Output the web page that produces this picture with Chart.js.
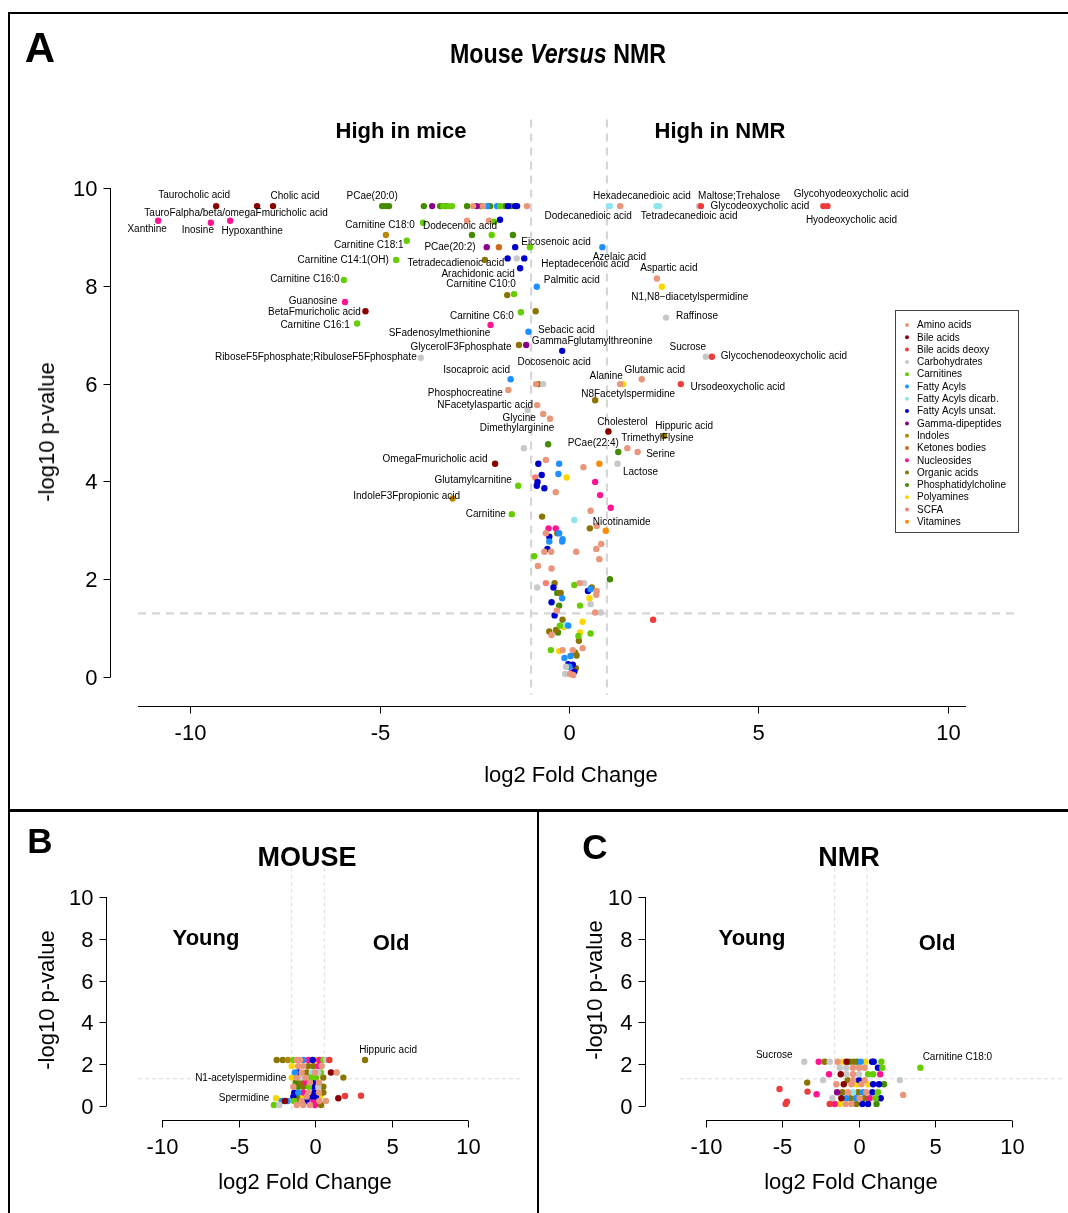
<!DOCTYPE html>
<html>
<head>
<meta charset="utf-8">
<script src="https://cdn.jsdelivr.net/npm/chart.js@4.4.1/dist/chart.umd.min.js"></script>
<style>
  body { margin: 0; background: #fff; }
  #fig { position: relative; width: 1068px; height: 1213px; overflow: hidden; font-family: "Liberation Sans", Arial, sans-serif; color: #000; }
  canvas { position: absolute; }
  .rule { position: absolute; background: #000; }
  .t { position: absolute; white-space: nowrap; transform: translate(-50%, -50%); line-height: 1; }
  .b { font-weight: bold; }
  .ax { font-size: 22px; }
  .rot { transform: translate(-50%, -50%) rotate(-90deg); }
</style>
</head>
<body>
<div id="fig">
  <div class="rule" style="left:8px;top:12px;width:2px;height:1201px"></div>
  <div class="rule" style="left:8px;top:12px;width:1060px;height:2px"></div>
  <div class="rule" style="left:8px;top:809px;width:1060px;height:3px"></div>
  <div class="rule" style="left:537px;top:809px;width:2px;height:404px"></div>

  <canvas id="chartA" width="1068" height="805" style="left:0;top:0"></canvas>
  <canvas id="chartB" width="536" height="398" style="left:0;top:815px"></canvas>
  <canvas id="chartC" width="528" height="398" style="left:540px;top:815px"></canvas>

  <div class="t b" style="left:40px;top:48px;font-size:42px">A</div>
  <div class="t b" style="left:558px;top:54px;font-size:28px;transform:translate(-50%,-50%) scaleX(0.83)">Mouse <i>Versus</i> NMR</div>
  <div class="t b" style="left:401px;top:131px;font-size:22px">High in mice</div>
  <div class="t b" style="left:720px;top:131px;font-size:22px">High in NMR</div>
  <div class="t ax rot" style="left:47px;top:432px">-log10 p-value</div>
  <div class="t ax" style="left:571px;top:775px">log2 Fold Change</div>

  <div class="t b" style="left:40px;top:840px;font-size:35px">B</div>
  <div class="t b" style="left:307px;top:857px;font-size:27px">MOUSE</div>
  <div class="t b" style="left:206px;top:938px;font-size:22px">Young</div>
  <div class="t b" style="left:391px;top:943px;font-size:22px">Old</div>
  <div class="t ax rot" style="left:47px;top:1000px">-log10 p-value</div>
  <div class="t ax" style="left:305px;top:1182px">log2 Fold Change</div>

  <div class="t b" style="left:595px;top:846px;font-size:35px">C</div>
  <div class="t b" style="left:849px;top:857px;font-size:27px">NMR</div>
  <div class="t b" style="left:752px;top:938px;font-size:22px">Young</div>
  <div class="t b" style="left:937px;top:943px;font-size:22px">Old</div>
  <div class="t ax rot" style="left:595px;top:990px">-log10 p-value</div>
  <div class="t ax" style="left:851px;top:1182px">log2 Fold Change</div>
</div>

<script>
// metabolite classes (legend order)
const classNames = ['Amino acids', 'Bile acids', 'Bile acids deoxy', 'Carbohydrates', 'Carnitines',
  'Fatty Acyls', 'Fatty Acyls dicarb.', 'Fatty Acyls unsat.', 'Gamma-dipeptides', 'Indoles',
  'Ketones bodies', 'Nucleosides', 'Organic acids', 'Phosphatidylcholine', 'Polyamines', 'SCFA', 'Vitamines'];
const classColors = ['#E9967A', '#8B0000', '#EE3B3B', '#C8C8C8', '#66CD00',
  '#1E90FF', '#8EE5EE', '#0000CD', '#8B008B', '#B8860B',
  '#D2691E', '#FF1493', '#8B7500', '#458B00', '#FFD700', '#FA8072', '#FF8C00'];

const xTicks = [-10, -5, 0, 5, 10];
const yTicks = [0, 2, 4, 6, 8, 10];
const fcCut = 1;
const pCut = 1.30103;

// ---- A: mouse versus NMR (labelled points come first) ----
const mvnNames = ['Taurocholic acid', 'TauroFalpha/beta/omegaFmuricholic acid', 'Cholic acid', 'Xanthine', 'Inosine',
  'Hypoxanthine', 'PCae(20:0)', 'Carnitine C18:0', 'Dodecenoic acid', 'Carnitine C18:1',
  'PCae(20:2)', 'Eicosenoic acid', 'Carnitine C14:1(OH)', 'Tetradecadienoic acid', 'Heptadecenoic acid',
  'Arachidonic acid', 'Azelaic acid', 'Carnitine C10:0', 'Palmitic acid', 'Carnitine C16:0',
  'Aspartic acid', 'N1,N8\u2212diacetylspermidine', 'Guanosine', 'BetaFmuricholic acid', 'Carnitine C16:1',
  'Raffinose', 'Carnitine C6:0', 'SFadenosylmethionine', 'Sebacic acid', 'GammaFglutamylthreonine',
  'GlycerolF3Fphosphate', 'Sucrose', 'Glycochenodeoxycholic acid', 'RiboseF5Fphosphate;RibuloseF5Fphosphate', 'Docosenoic acid',
  'Isocaproic acid', 'Alanine', 'Glutamic acid', 'Ursodeoxycholic acid', 'Phosphocreatine',
  'N8Facetylspermidine', 'NFacetylaspartic acid', 'Glycine', 'Dimethylarginine', 'Cholesterol',
  'Hippuric acid', 'TrimethylFlysine', 'PCae(22:4)', 'Serine', 'Lactose',
  'OmegaFmuricholic acid', 'Glutamylcarnitine', 'IndoleF3Fpropionic acid', 'Carnitine', 'Nicotinamide',
  'Hexadecanedioic acid', 'Dodecanedioic acid', 'Maltose;Trehalose', 'Glycodeoxycholic acid', 'Tetradecanedioic acid',
  'Glycohyodeoxycholic acid', 'Hyodeoxycholic acid'];

const mvnFC = [-9.31, -8.23, -7.81, -10.84, -9.45, -8.94, -4.93, -3.85, -1.82, -4.28,
  -2.56, -1.03, -4.56, -2.22, -1.18, -1.29, 0.88, -1.45, -0.85, -5.94,
  2.32, 2.45, -5.91, -5.37, -5.59, 2.56, -1.27, -2.07, -1.07, -1.13,
  -1.32, 3.61, 3.77, -3.91, -0.18, -1.54, 1.35, 1.92, 2.95, -1.6,
  0.69, -0.84, -0.68, -0.5, 1.04, 2.51, 1.54, 1.3, 1.81, 1.28,
  -1.95, -1.34, -3.07, -1.51, 0.97, 1.08, 1.06, 3.43, 3.48, 2.38,
  6.71, 6.82,
  -4.83, -4.75, -3.83, -3.61, -3.4, -3.32, -3.25, -3.19, -3.09, -2.69,
  -2.53, -2.44, -2.32, -2.27, -2.16, -2.08, -1.9, -1.82, -1.69, -1.61,
  -1.53, -1.42, -1.37, -1.11, 1.35, 2.31,
  -2.69, -2.11, -1.98, -4.83, -2.04, -1.48, -2.17, -1.85, -1.42, -1.62, -1.38,
  -1.63, -0.88, -0.87, -0.81, -0.68, 1.43, -1.09, -0.55, -1.19,
  -0.81, -0.61, -0.26, 0.38, 0.8, -0.72, -0.89, -0.83, -0.85, -0.65,
  -0.28, -0.06, -0.35, 0.69, 0.82, 1.1, -0.71, 0.14, 0.57, 0.55, 0.73,
  -0.54, -0.35, -0.61, -0.31, -0.26, -0.52, -0.52, -0.17, -0.18, -0.57,
  -0.65, -0.47, 0.19, 0.72, 0.85, 0.8, -0.92, -0.82, -0.46,
  -0.84, -0.61, -0.38, -0.41, -0.31, -0.22, -0.18, -0.46, -0.26, -0.32,
  -0.38, 0.14, 0.28, 0.4, 0.6, 0.57, 0.5, 0.73, 0.72, 0.54,
  0.57, 0.29, 1.08, 0.69, 0.84, 2.22,
  -0.17, -0.08, -0.02, -0.24, -0.14, 0.36, -0.52, -0.34, -0.29, -0.46,
  0.29, 0.57, 0.25, 0.26, -0.48, -0.26, -0.17, 0.1, 0.16, 0.2,
  0.36, -0.12, 0.04, -0.02, 0.1, 0.01, -0.08, 0.18, 0.14, 0.07,
  0.03, -0.1, 0.11];

const mvnLogP = [9.63, 9.63, 9.63, 9.33, 9.29, 9.33, 9.63, 9.29, 9.35, 8.92,
  9.04, 8.79, 8.53, 8.53, 8.56, 8.36, 8.79, 7.83, 7.98, 8.12,
  8.15, 7.98, 7.67, 7.48, 7.23, 7.35, 7.46, 7.2, 7.06, 6.79,
  6.79, 6.55, 6.55, 6.53, 6.67, 6.09, 5.99, 6.09, 5.99, 5.87,
  5.66, 5.56, 5.38, 5.28, 5.02, 4.93, 4.68, 4.6, 4.6, 4.36,
  4.36, 3.91, 3.65, 3.33, 2.99, 9.63, 9.63, 9.63, 9.63, 9.63,
  9.63, 9.63,
  9.63, 9.63, 9.63, 9.63, 9.63, 9.63, 9.63, 9.63, 9.63, 9.63,
  9.63, 9.63, 9.63, 9.63, 9.63, 9.63, 9.63, 9.63, 9.63, 9.63,
  9.63, 9.63, 9.63, 9.63, 9.63, 9.63,
  9.33, 9.33, 9.31, 9.04, 9.04, 9.04, 8.79, 8.79, 8.79, 8.56, 8.56,
  7.81, 7.48, 5.99, 5.99, 5.99, 5.99, 5.46, 4.76, 4.68,
  4.36, 4.44, 4.36, 4.29, 4.36, 4.13, 4.08, 3.99, 3.91, 3.86,
  4.15, 4.08, 3.78, 3.99, 3.72, 3.46, 3.28, 3.21, 3.4, 3.04, 3.09,
  3.04, 3.04, 2.94, 2.94, 2.94, 2.87, 2.77, 2.82, 2.77, 2.62,
  2.56, 2.56, 2.56, 2.62, 2.72, 2.41, 2.47, 2.27, 2.22,
  1.83, 1.92, 1.92, 1.83, 1.72, 1.72, 1.61, 1.53, 1.46, 1.36,
  1.26, 1.88, 1.92, 1.92, 1.83, 1.8, 1.76, 1.76, 1.68, 1.61,
  1.49, 1.46, 2.0, 1.32, 1.32, 1.17,
  1.17, 1.07, 1.05, 1.05, 1.02, 1.13, 0.93, 0.96, 0.91, 0.86,
  0.91, 0.89, 0.84, 0.74, 0.55, 0.53, 0.55, 0.55, 0.5, 0.44,
  0.59, 0.39, 0.43, 0.26, 0.25, 0.21, 0.21, 0.18, 0.11, 0.09,
  0.06, 0.06, 0.04];

const mvnClass = [1, 1, 1, 11, 11, 11, 13, 4, 7, 4,
  13, 4, 4, 12, 7, 7, 5, 4, 5, 4,
  0, 14, 11, 1, 4, 3, 4, 11, 5, 8,
  12, 3, 2, 3, 7, 5, 0, 0, 2, 0,
  12, 0, 0, 0, 1, 12, 0, 13, 0, 3,
  1, 4, 9, 4, 16, 6, 6, 3, 2, 6,
  2, 2,
  13, 13, 13, 8, 13, 4, 13, 4, 4, 13,
  0, 8, 13, 0, 5, 13, 5, 4, 13, 7,
  13, 7, 7, 0, 0, 6,
  0, 0, 4, 9, 4, 13, 8, 10, 7, 7, 3,
  12, 12, 0, 12, 3, 14, 3, 13, 3,
  7, 0, 5, 0, 16, 7, 15, 7, 7, 7,
  5, 14, 0, 11, 11, 11, 12, 6, 0, 12, 0,
  11, 11, 0, 12, 5, 7, 5, 5, 5, 7,
  0, 0, 0, 0, 0, 0, 4, 0, 0,
  3, 15, 12, 7, 13, 12, 5, 7, 13, 0,
  7, 4, 0, 3, 12, 5, 7, 0, 0, 14,
  3, 4, 13, 0, 3, 2,
  12, 6, 5, 4, 14, 14, 12, 12, 13, 0,
  14, 4, 4, 12, 4, 14, 0, 0, 12, 12,
  0, 5, 5, 7, 7, 5, 3, 12, 7, 11,
  0, 3, 0];

// label offsets in px from the point (text centre)
const mvnLabelPos = [[-22, -11], [-21, 7], [22, -10], [-11, 8], [-13, 8], [22, 10], [-10, -10], [-43, 3], [-40, 6], [-38, 4],
  [-22, 12], [26, -5], [-53, 0], [-29, 3], [61, 6], [-42, 6], [17, 10], [-33, -10], [35, -7], [-39, -1],
  [12, -10], [28, 10], [-32, -1], [-51, 1], [-42, 2], [31, -1], [-39, 4], [-51, 8], [38, -2], [66, -4],
  [-58, 2], [-18, -9], [72, 0], [-105, 0], [-8, 11], [-34, -9], [-14, -8], [13, -9], [57, 3], [-43, 3],
  [33, -6], [-52, 0], [-24, 4], [-33, 9], [14, -9], [20, -10], [30, -10], [-25, -9], [23, 2], [23, 8],
  [-60, -5], [-45, -6], [-46, -2], [-26, 0], [16, -9], [32, -10], [-21, 10], [40, -10], [59, 0], [30, 10],
  [28, -12], [24, 14]];

// ---- B: mouse, old versus young ----
const mouseNames = ['Hippuric acid', 'N1-acetylspermidine', 'Spermidine'];
const mouseFC = [3.5, -1.0, -1.96,
  -1.92, -1.55, -1.23, -0.9, -0.69, -0.49, -0.29, 0.02, 0.29, 0.53, 0.69, 0.94, 1.1, 1.31,
  -0.6, -0.29, 0.02, 0.33, 0.63, 0.84, -1.0,
  -0.8, -0.6, -0.39, -0.08, 0.23, 0.43, 0.63, 0.78, 1.41, 1.76,
  -0.69, -0.45, -0.14, 0.18, 0.49, 0.94, 2.17,
  -0.75, -0.45, -0.14, 0.12, 0.43, 0.67,
  -0.9, -0.6, -0.29, 0.06, 0.33, 0.63, 0.94,
  -0.84, -0.6, -0.29, 0.02, 0.39, 0.67, 0.94,
  1.86, 2.27, 3.25,
  -0.9, -0.69, -0.39, -0.08, 0.23, 0.49, 0.74,
  -1.61, -1.41, -1.25, -0.86, -0.6, -0.39, -0.08, 0.33, 0.69, 1.1,
  -2.09, -1.76, -0.69, -0.29, 0.12, 0.43, 0.8];
const mouseLogP = [2.2, 1.36, 0.37,
  2.2, 2.2, 2.2, 2.2, 2.2, 2.2, 2.2, 2.2, 2.2, 2.2, 2.2, 2.2, 2.2, 2.2,
  1.91, 1.91, 1.91, 1.91, 1.91, 1.91, 1.91,
  1.6, 1.6, 1.6, 1.6, 1.6, 1.6, 1.6, 1.6, 1.6, 1.6,
  1.36, 1.36, 1.36, 1.36, 1.36, 1.36, 1.36,
  1.12, 1.12, 1.12, 1.12, 1.12, 1.12,
  0.92, 0.92, 0.92, 0.92, 0.92, 0.92, 0.92,
  0.64, 0.64, 0.64, 0.64, 0.64, 0.64, 0.64,
  0.37, 0.48, 0.49,
  0.45, 0.45, 0.45, 0.45, 0.45, 0.45, 0.45,
  0.24, 0.24, 0.24, 0.24, 0.24, 0.24, 0.24, 0.24, 0.24, 0.24,
  0.05, 0.05, 0.05, 0.05, 0.05, 0.05, 0.05];
const mouseClass = [12, 14, 14,
  12, 12, 9, 4, 0, 0, 5, 11, 7, 14, 11, 4, 3, 2,
  0, 0, 12, 12, 11, 0, 14,
  5, 7, 0, 12, 6, 0, 3, 4, 1, 0,
  0, 3, 0, 4, 4, 12, 12,
  13, 12, 11, 0, 7, 0,
  0, 13, 12, 4, 7, 3, 12,
  7, 5, 11, 0, 7, 0, 12,
  1, 2, 2,
  7, 13, 14, 0, 7, 7, 14,
  5, 1, 5, 4, 12, 0, 7, 11, 0, 0,
  4, 3, 0, 0, 0, 11, 12];
const mouseLabelPos = [[23, -10], [-51, 1], [-32, 0]];

// ---- C: NMR, old versus young ----
const nmrNames = ['Sucrose', 'Carnitine C18:0'];
const nmrFC = [-2.88, 4.29,
  -1.99, -1.62, -1.31, -0.82, -0.48, -0.27, -0.07, 0.17, 0.38, 0.6, 0.9, 1.31, 1.41, 1.88,
  -0.69, -0.28, 0.13, 0.5, 0.85, 1.67, 1.94,
  -1.35, -0.63, -0.28, 0.13, 0.5, 1.06, 1.37, 1.81,
  -1.71, -0.2, 0.13, 0.5, 0.85, 3.02, -2.7,
  -0.9, -0.44, 0.03, 0.34, 0.65, 1.06, 1.37, 1.74, 2.05,
  -4.41, -2.68, -2.12,
  -0.85, -0.52, -0.18, 0.13, 0.44, 0.75, 0.95, 1.32, 1.67, 3.23,
  -1.14, -0.59, -0.28, -0.03, 0.3, 0.54, 0.85, 1.16, 1.53, 1.84,
  -1.31, -1.0, -0.69, -0.32, 0.03, 0.34, 0.71, 1.06, 1.58,
  -3.95, -4.03];
const nmrLogP = [2.12, 1.83,
  2.12, 2.12, 2.12, 2.12, 2.12, 2.12, 2.12, 2.12, 2.12, 2.12, 2.12, 2.12, 2.12, 2.12,
  1.83, 1.83, 1.83, 1.83, 1.83, 1.83, 1.83,
  1.52, 1.52, 1.52, 1.52, 1.52, 1.52, 1.52, 1.52,
  1.24, 1.24, 1.24, 1.24, 1.24, 1.24, 1.12,
  1.04, 1.04, 1.04, 1.04, 1.04, 1.04, 1.04, 1.04, 1.04,
  0.81, 0.69, 0.56,
  0.66, 0.66, 0.66, 0.66, 0.66, 0.66, 0.66, 0.66, 0.66, 0.53,
  0.37, 0.37, 0.37, 0.37, 0.37, 0.37, 0.37, 0.37, 0.37, 0.37,
  0.1, 0.1, 0.1, 0.1, 0.1, 0.1, 0.1, 0.1, 0.1,
  0.21, 0.1];
const nmrClass = [3, 4,
  11, 12, 3, 0, 14, 1, 13, 12, 13, 5, 14, 7, 7, 4,
  3, 3, 0, 0, 0, 7, 4,
  11, 1, 3, 0, 3, 4, 4, 11,
  3, 12, 0, 7, 0, 3, 12,
  0, 1, 0, 14, 0, 14, 7, 7, 13,
  2, 2, 11,
  8, 12, 0, 6, 12, 5, 0, 7, 4, 0,
  3, 1, 5, 12, 5, 0, 12, 11, 4, 7,
  2, 11, 14, 0, 0, 12, 7, 7, 13,
  2, 2];
const nmrLabelPos = [[-30, -6], [37, -11]];

// layout of each panel in page pixels: plot area, where 0 sits and px per unit.
// the printed x axis of B and C sits slightly off the plotted data, so it gets its own scale (t0/tu)
const panels = [
  { id: 'chartA', left: 0, top: 0, w: 1068, h: 805, area: [138, 188, 966, 706], x0: 569, ux: 37.9, y0: 677, uy: 48.9,
    t0: 569, tu: 37.9, lineSpan: 'area',
    yAxisX: 110, fc: mvnFC, p: mvnLogP, cls: mvnClass, names: mvnNames, pos: mvnLabelPos,
    dash: { color: '#d6d6d6', width: 2.2, pattern: [8, 6], vTop: 11.4, vBottom: -0.37, hTo: 11.85 },
    legend: true, radius: 3.2 },
  { id: 'chartB', left: 0, top: 815, w: 536, h: 398, area: [138, 897, 522, 1120], x0: 308, ux: 16.3, y0: 1106, uy: 20.9,
    t0: 315, tu: 15.3, lineSpan: 'ticks',
    yAxisX: 106, fc: mouseFC, p: mouseLogP, cls: mouseClass, names: mouseNames, pos: mouseLabelPos,
    dash: { color: '#dcdcdc', width: 1, pattern: [4, 3], vTop: 11.4, vBottom: -0.3, hTo: null },
    legend: false, radius: 3.2 },
  { id: 'chartC', left: 540, top: 815, w: 528, h: 398, area: [680, 897, 1065, 1120], x0: 851, ux: 16.2, y0: 1106, uy: 20.9,
    t0: 859, tu: 15.3, lineSpan: 'ticks',
    yAxisX: 645, fc: nmrFC, p: nmrLogP, cls: nmrClass, names: nmrNames, pos: nmrLabelPos,
    dash: { color: '#dcdcdc', width: 1, pattern: [4, 3], vTop: 11.4, vBottom: -0.3, hTo: null },
    legend: false, radius: 3.2 }
];

const FONT = '"Liberation Sans", Arial, sans-serif';

const volcanoPlugin = {
  id: 'volcano',
  beforeDatasetsDraw(chart, args, o) {
    const { ctx } = chart;
    const xs = chart.scales.x, ys = chart.scales.y;
    const d = o.dash;
    ctx.save();
    ctx.strokeStyle = d.color;
    ctx.lineWidth = d.width;
    ctx.setLineDash(d.pattern);
    [-fcCut, fcCut].forEach(v => {
      const px = xs.getPixelForValue(v);
      ctx.beginPath();
      ctx.moveTo(px, ys.getPixelForValue(d.vTop));
      ctx.lineTo(px, ys.getPixelForValue(d.vBottom));
      ctx.stroke();
    });
    const py = ys.getPixelForValue(pCut);
    ctx.beginPath();
    ctx.moveTo(xs.getPixelForValue(xs.min), py);
    ctx.lineTo(xs.getPixelForValue(d.hTo === null ? xs.max : d.hTo), py);
    ctx.stroke();
    ctx.restore();
  },
  afterDatasetsDraw(chart, args, o) {
    const { ctx, chartArea } = chart;
    const xs = chart.scales.x, ys = chart.scales.y, xt = chart.scales.xAxis;
    ctx.save();
    ctx.strokeStyle = '#000';
    ctx.fillStyle = '#000';
    ctx.lineWidth = 1;

    // y axis, R style, offset to the left of the plot region
    const ax = Math.round(chartArea.left + o.yAxisOffset) + 0.5;
    ctx.beginPath();
    ctx.moveTo(ax, ys.getPixelForValue(yTicks[0]));
    ctx.lineTo(ax, ys.getPixelForValue(yTicks[yTicks.length - 1]));
    ctx.stroke();
    ctx.font = '22px ' + FONT;
    ctx.textAlign = 'right';
    ctx.textBaseline = 'middle';
    yTicks.forEach(v => {
      const py = Math.round(ys.getPixelForValue(v)) + 0.5;
      ctx.beginPath();
      ctx.moveTo(ax, py);
      ctx.lineTo(ax - 7, py);
      ctx.stroke();
      ctx.fillText(String(v), ax - 13, py + 1);
    });

    // x axis along the bottom of the plot region
    const ay = Math.round(chartArea.bottom) + 0.5;
    ctx.beginPath();
    if (o.lineSpan === 'area') {
      ctx.moveTo(chartArea.left, ay);
      ctx.lineTo(chartArea.right, ay);
    } else {
      ctx.moveTo(xt.getPixelForValue(xTicks[0]), ay);
      ctx.lineTo(xt.getPixelForValue(xTicks[xTicks.length - 1]), ay);
    }
    ctx.stroke();
    ctx.textAlign = 'center';
    xTicks.forEach(v => {
      const px = Math.round(xt.getPixelForValue(v)) + 0.5;
      ctx.beginPath();
      ctx.moveTo(px, ay);
      ctx.lineTo(px, ay + 7);
      ctx.stroke();
      ctx.fillText(String(v), px, ay + 27);
    });

    // compound labels
    ctx.font = '10px ' + FONT;
    ctx.fillStyle = '#000';
    o.names.forEach((name, i) => {
      const px = xs.getPixelForValue(o.fc[i]);
      const py = ys.getPixelForValue(o.p[i]);
      ctx.fillText(name, px + o.pos[i][0], py + o.pos[i][1]);
    });

    // legend box
    if (o.legend) {
      ctx.strokeStyle = '#444';
      ctx.strokeRect(895.5, 310.5, 123, 222);
      ctx.textAlign = 'left';
      chart.data.datasets.forEach((ds, i) => {
        const y = 325 + i * 12.3;
        ctx.fillStyle = ds.backgroundColor;
        ctx.beginPath();
        ctx.arc(907, y, 2, 0, Math.PI * 2);
        ctx.fill();
        ctx.fillStyle = '#000';
        ctx.fillText(ds.label, 917, y + 0.5);
      });
    }
    ctx.restore();
  }
};

panels.forEach(pn => {
  const [L, T, R, B] = pn.area;
  const datasets = classNames.map((name, c) => ({
    label: name,
    data: pn.fc.map((x, j) => ({ x, y: pn.p[j], c: pn.cls[j] })).filter(pt => pt.c === c),
    backgroundColor: classColors[c],
    borderWidth: 0,
    pointRadius: pn.radius,
    pointHoverRadius: pn.radius,
    clip: false
  }));

  new Chart(document.getElementById(pn.id), {
    type: 'scatter',
    data: { datasets },
    plugins: [volcanoPlugin],
    options: {
      responsive: false,
      animation: false,
      events: [],
      layout: { padding: { left: L - pn.left, top: T - pn.top, right: pn.left + pn.w - R, bottom: pn.top + pn.h - B } },
      scales: {
        x: { type: 'linear', display: false, min: (L - pn.x0) / pn.ux, max: (R - pn.x0) / pn.ux },
        xAxis: { type: 'linear', axis: 'x', display: false, min: (L - pn.t0) / pn.tu, max: (R - pn.t0) / pn.tu },
        y: { type: 'linear', display: false, min: (pn.y0 - B) / pn.uy, max: (pn.y0 - T) / pn.uy }
      },
      plugins: {
        legend: { display: false },
        tooltip: { enabled: false },
        volcano: {
          yAxisOffset: pn.yAxisX - L, lineSpan: pn.lineSpan,
          fc: pn.fc, p: pn.p, names: pn.names, pos: pn.pos,
          dash: pn.dash, legend: pn.legend
        }
      }
    }
  });
});
</script>
</body>
</html>
